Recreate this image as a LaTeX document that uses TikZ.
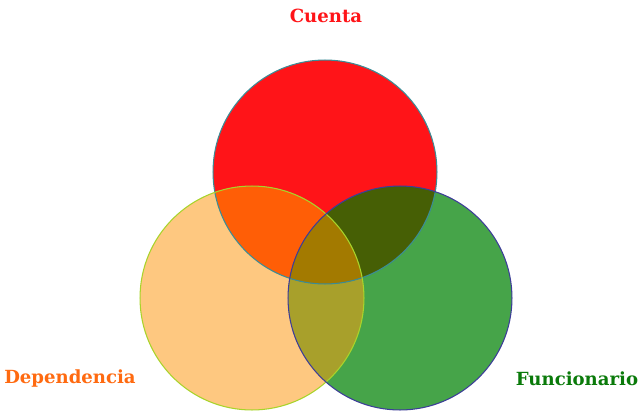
\documentclass[tikz,border=0pt]{standalone}
\usepackage{fontspec}
\setmainfont{DejaVu Serif}

\definecolor{cuentared}{HTML}{FF1418}
\definecolor{dependorange}{HTML}{FEC880}
\definecolor{funcgreen}{HTML}{46A449}
\definecolor{redorange}{HTML}{FF5E06}
\definecolor{redgreen}{HTML}{465F05}
\definecolor{orangegreen}{HTML}{A8A02B}
\definecolor{allthree}{HTML}{A37A00}
\definecolor{cuentaline}{HTML}{3B8C96}
\definecolor{dependline}{HTML}{A8D42A}
\definecolor{funcline}{HTML}{3D3D99}
\definecolor{dependtext}{HTML}{FF6A10}
\definecolor{functext}{HTML}{0A7A0A}

\tikzset{
  venn label/.style={font=\bfseries\fontsize{10.3}{11}\selectfont},
  venn line/.style={line width=0.6pt}
}

\begin{document}
\begin{tikzpicture}[x=0.02cm,y=-0.02cm]
	\useasboundingbox (0,0) rectangle (640,413);

	\def\setcuenta{(325,172) circle[radius=2.24cm]}
	\def\setdepend{(252,298) circle[radius=2.24cm]}
	\def\setfunc{(400,298) circle[radius=2.24cm]}

	% plain sets
	\fill[cuentared] \setcuenta;
	\fill[dependorange] \setdepend;
	\fill[funcgreen] \setfunc;

	% overlaps
	\begin{scope}
		\clip \setdepend;
		\fill[orangegreen] \setfunc;
	\end{scope}
	\begin{scope}
		\clip \setcuenta;
		\fill[redorange] \setdepend;
		\fill[redgreen] \setfunc;
		\clip \setdepend;
		\fill[allthree] \setfunc;
	\end{scope}

	% outlines
	\draw[venn line, cuentaline] \setcuenta;
	\draw[venn line, dependline] \setdepend;
	\draw[venn line, funcline] \setfunc;

	\node[venn label, text=cuentared] (cuenta) at (326,16) {Cuenta};
	\node[venn label, text=dependtext] (dependencia) at (70,379) {Dependencia};
	\node[venn label, text=functext] (funcionario) at (577,379) {Funcionario};
\end{tikzpicture}
\end{document}
